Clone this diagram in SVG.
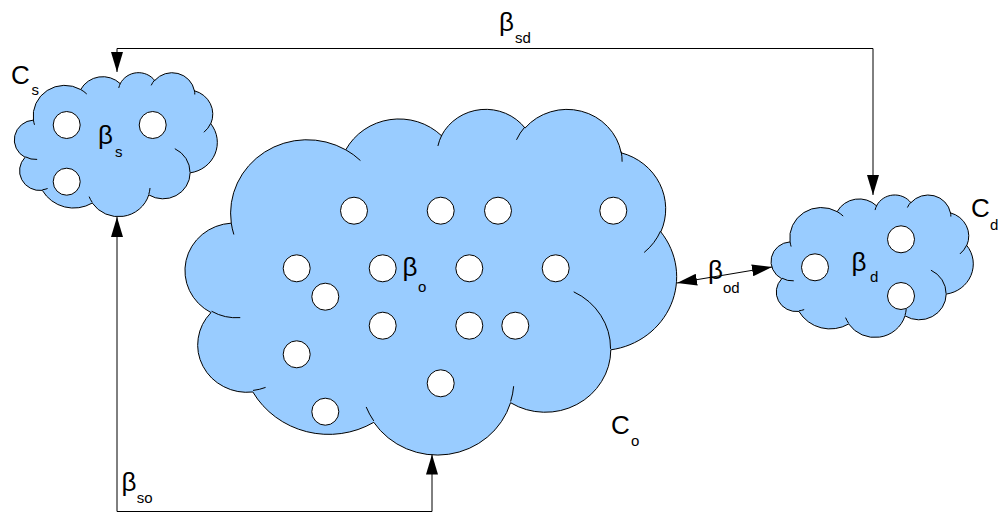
<svg xmlns="http://www.w3.org/2000/svg" xmlns:xlink="http://www.w3.org/1999/xlink" width="1002" height="514" viewBox="0 0 1002 514">
<style>
.cl{fill:#99ccff;stroke:#000;stroke-width:1;vector-effect:non-scaling-stroke}
.cd{fill:none;stroke:#000;stroke-width:1;vector-effect:non-scaling-stroke}
.hole{fill:#fff;stroke:#000;stroke-width:1}
.con{fill:none;stroke:#000;stroke-width:1}
text{font-family:"Liberation Sans",Arial,sans-serif;fill:#000}
.big{font-size:26px}
.sub{font-size:15px}
</style>
<defs>
<marker id="ah" viewBox="0 0 20 12" refX="20" refY="6" markerWidth="20" markerHeight="12" markerUnits="userSpaceOnUse" orient="auto-start-reverse">
<path d="M0,0 L20,6 L0,12 z" fill="#000"/>
</marker>
<g id="cloud">
<path class="cl" d="M3900,14370 A6753,9190 0 0 1 14005,5202.5 A5333,7267 0 0 1 22456,3432.8 A4365,5945 0 0 1 29833,2481.5 A4857,6595 0 0 1 38318,5577.7 A5333,7273 0 0 1 41818,15462 A6775,9220 0 0 1 37403,30203 A5785,7867 0 0 1 28555,36813 A6752,9215 0 0 1 16480,39267 A7720,10543 0 0 1 5803,35471 A4360,5918 0 0 1 2111,25551 A4345,5945 0 0 1 3900,14370 Z"/>
<path class="cd" d="M4693,26177 A4345,5945 0 0 1 2160,25380 M6928,34899 A4360,5918 0 0 1 5819,35281 M16478,39090 A6752,9215 0 0 1 15809,37347 M28827,34751 A6752,9215 0 0 1 28561,36660 M34129,22954 A5785,7867 0 0 1 37380,30090 M41798,15354 A5333,7273 0 0 1 40350,18030 M38324,5426 A4857,6595 0 0 1 38400,6689 M29078,3952 A4857,6595 0 0 1 29821,2338 M22141,4720 A4365,5945 0 0 1 22500,3330 M14000,5192 A6753,9190 0 0 1 15300,6541 M4127,15789 A6753,9190 0 0 1 3900,14370"/>
</g>
</defs>

<g id="cloud-s">
<use href="#cloud" xlink:href="#cloud" transform="translate(15.2,72.2) scale(0.004677,0.003332)"/>
<circle class="hole" cx="66.7" cy="125" r="13.5"/>
<circle class="hole" cx="152.7" cy="125" r="13.5"/>
<circle class="hole" cx="66.7" cy="181.7" r="13.5"/>
<text class="big" x="98" y="144">β<tspan class="sub" x="115" y="157">s</tspan></text>
<text class="big" x="11" y="83.5">C<tspan class="sub" x="31.5" y="95">s</tspan></text>
</g>

<g id="cloud-o">
<use href="#cloud" xlink:href="#cloud" transform="translate(187.1,108.2) scale(0.011328,0.0080)"/>
<circle class="hole" cx="354" cy="210.7" r="13.5"/>
<circle class="hole" cx="440.7" cy="210.7" r="13.5"/>
<circle class="hole" cx="498" cy="210.7" r="13.5"/>
<circle class="hole" cx="613.3" cy="210.7" r="13.5"/>
<circle class="hole" cx="296.7" cy="268.3" r="13.5"/>
<circle class="hole" cx="382.7" cy="268.3" r="13.5"/>
<circle class="hole" cx="469.3" cy="268.3" r="13.5"/>
<circle class="hole" cx="555.7" cy="268.3" r="13.5"/>
<circle class="hole" cx="325.3" cy="296.7" r="13.5"/>
<circle class="hole" cx="382.7" cy="325.7" r="13.5"/>
<circle class="hole" cx="469.3" cy="325.7" r="13.5"/>
<circle class="hole" cx="515.3" cy="325.7" r="13.5"/>
<circle class="hole" cx="296.7" cy="354.3" r="13.5"/>
<circle class="hole" cx="440.7" cy="383.3" r="13.5"/>
<circle class="hole" cx="325.3" cy="411.7" r="13.5"/>
<text class="big" x="402.5" y="276">β<tspan class="sub" x="418" y="291.7">o</tspan></text>
<text class="big" x="611" y="433.5">C<tspan class="sub" x="631" y="446">o</tspan></text>
</g>

<g id="cloud-d">
<use href="#cloud" xlink:href="#cloud" transform="translate(771.9,194.5) scale(0.004660,0.003297)"/>
<circle class="hole" cx="815" cy="267.3" r="13.5"/>
<circle class="hole" cx="901" cy="239.3" r="13.5"/>
<circle class="hole" cx="901" cy="296" r="13.5"/>
<text class="big" x="851.5" y="271">β<tspan class="sub" x="870" y="281.7">d</tspan></text>
<text class="big" x="971" y="216.7">C<tspan class="sub" x="990" y="230">d</tspan></text>
</g>

<g id="connectors">
<path class="con" d="M117,72 V48.5 H873 V195" marker-start="url(#ah)" marker-end="url(#ah)"/>
<path class="con" d="M117,217 V511.5 H432 V454.5" marker-start="url(#ah)" marker-end="url(#ah)"/>
<path class="con" d="M677,283 L772,267" marker-start="url(#ah)" marker-end="url(#ah)"/>
<text class="big" x="499" y="31">β<tspan class="sub" x="515" y="43.3">sd</tspan></text>
<text class="big" x="121.5" y="491">β<tspan class="sub" x="136.7" y="503">so</tspan></text>
<text class="big" x="708" y="279">β<tspan class="sub" x="723" y="293">od</tspan></text>
</g>
</svg>
